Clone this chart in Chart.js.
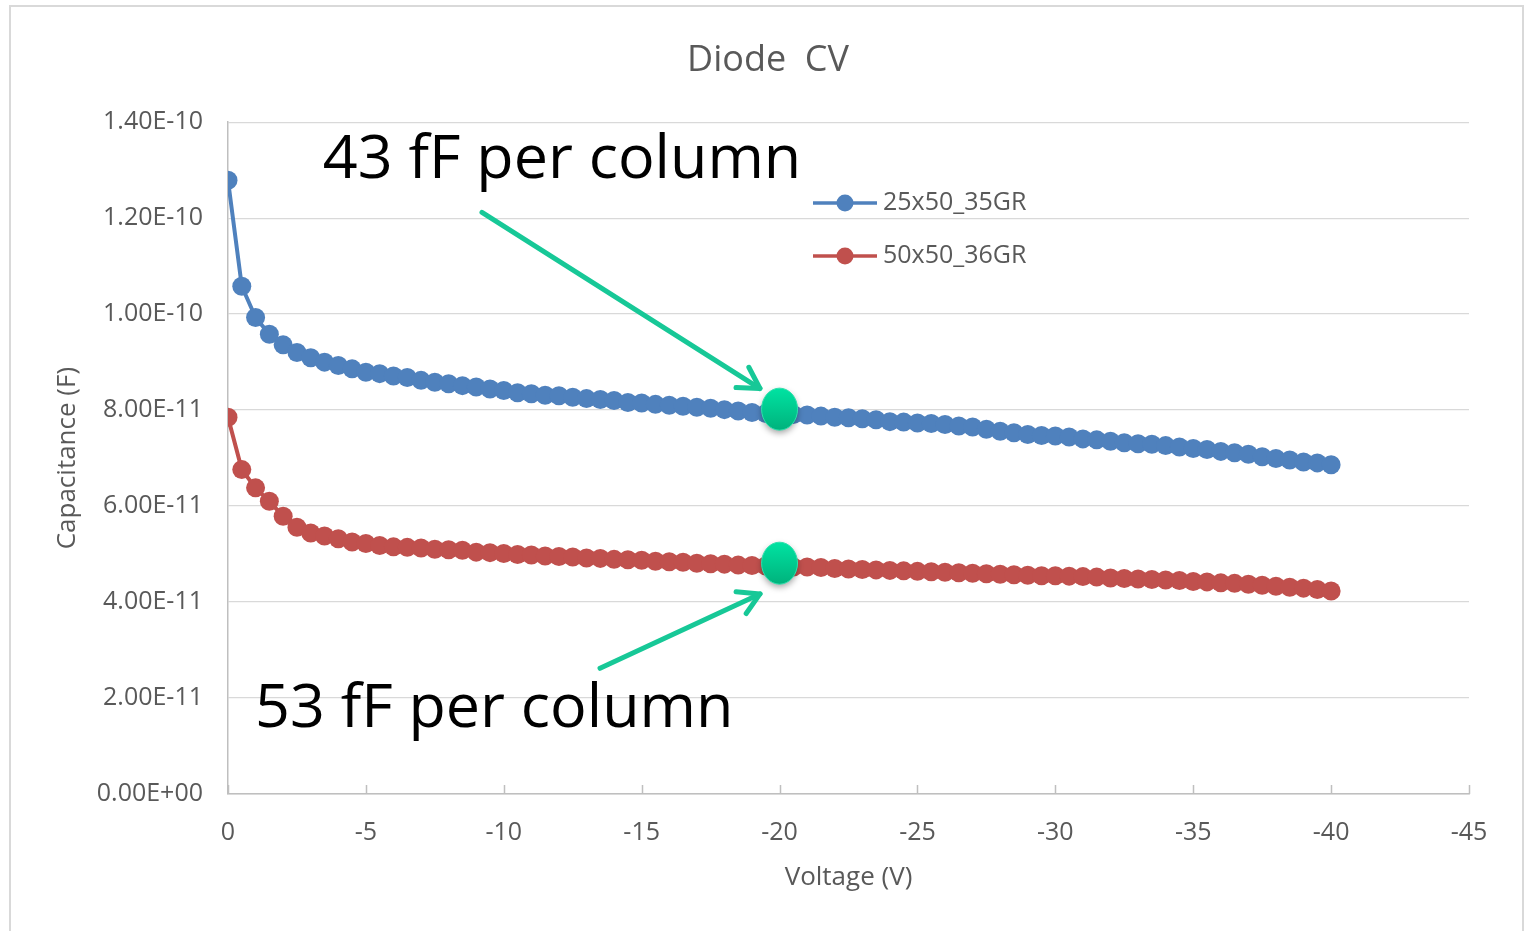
<!DOCTYPE html>
<html>
<head>
<meta charset="utf-8">
<title>Diode CV</title>
<script src="https://cdn.jsdelivr.net/npm/chart.js@4.4.1/dist/chart.umd.min.js"></script>
<style>
  html, body { margin: 0; padding: 0; background: #fff; }
  #cv { display: block; }
</style>
</head>
<body>
<canvas id="cv" width="1528" height="931"></canvas>
<script>
// bias sweep, volts
const VOLTAGE = [
  0, -0.5, -1, -1.5, -2, -2.5, -3, -3.5, -4, -4.5,
  -5, -5.5, -6, -6.5, -7, -7.5, -8, -8.5, -9, -9.5,
  -10, -10.5, -11, -11.5, -12, -12.5, -13, -13.5, -14, -14.5,
  -15, -15.5, -16, -16.5, -17, -17.5, -18, -18.5, -19, -19.5,
  -20, -20.5, -21, -21.5, -22, -22.5, -23, -23.5, -24, -24.5,
  -25, -25.5, -26, -26.5, -27, -27.5, -28, -28.5, -29, -29.5,
  -30, -30.5, -31, -31.5, -32, -32.5, -33, -33.5, -34, -34.5,
  -35, -35.5, -36, -36.5, -37, -37.5, -38, -38.5, -39, -39.5,
  -40
];

// capacitance in units of 1e-11 F
const CAP_25x50 = [
  12.79, 10.58, 9.93, 9.58, 9.36, 9.20, 9.09, 9.00, 8.93, 8.86,
  8.79, 8.76, 8.71, 8.68, 8.62, 8.58, 8.55, 8.51, 8.48, 8.44,
  8.41, 8.36, 8.34, 8.31, 8.30, 8.27, 8.24, 8.22, 8.20, 8.16,
  8.15, 8.12, 8.10, 8.08, 8.06, 8.04, 8.01, 7.98, 7.95, 7.93,
  7.92, 7.91, 7.90, 7.875, 7.85, 7.84, 7.82, 7.80, 7.76, 7.75,
  7.73, 7.72, 7.70, 7.67, 7.65, 7.60, 7.56, 7.53, 7.49, 7.47,
  7.46, 7.44, 7.40, 7.38, 7.35, 7.32, 7.30, 7.29, 7.26, 7.23,
  7.20, 7.18, 7.14, 7.11, 7.08, 7.03, 6.99, 6.96, 6.92, 6.90,
  6.86
];

const CAP_50x50 = [
  7.85, 6.76, 6.38, 6.10, 5.79, 5.56, 5.44, 5.375, 5.32, 5.25,
  5.22, 5.18, 5.15, 5.14, 5.125, 5.10, 5.09, 5.08, 5.04, 5.03,
  5.01, 4.99, 4.98, 4.96, 4.95, 4.94, 4.92, 4.91, 4.89, 4.88,
  4.87, 4.85, 4.84, 4.83, 4.81, 4.80, 4.79, 4.77, 4.76, 4.75,
  4.74, 4.73, 4.73, 4.72, 4.70, 4.69, 4.68, 4.67, 4.66, 4.65,
  4.64, 4.63, 4.62, 4.61, 4.60, 4.59, 4.58, 4.57, 4.56, 4.55,
  4.55, 4.54, 4.53, 4.52, 4.50, 4.49, 4.48, 4.47, 4.46, 4.45,
  4.43, 4.42, 4.40, 4.39, 4.37, 4.35, 4.33, 4.31, 4.29, 4.26,
  4.23
];

const SERIES_NAMES = ['25x50_35GR', '50x50_36GR'];
const SERIES_COLORS = ['#4f81bd', '#c0504d'];

const X_TICKS = [0, -5, -10, -15, -20, -25, -30, -35, -40, -45];
const Y_TICKS = [0, 2, 4, 6, 8, 10, 12, 14];

// callouts: highlighted operating point, arrow (tail -> tip) and caption, all in data units
const CALLOUTS = [
  { text: '43 fF per column', at: [-3.44, 12.83], tail: [-9.21, 12.12], tip: [-19.29, 8.45], dot: [-20, 8.02] },
  { text: '53 fF per column', at: [-0.98, 1.39], tail: [-13.49, 2.62], tip: [-19.29, 4.17], dot: [-20, 4.81] }
];

const UNIT = 1e-11;
const GREY_TEXT = '#595959';
const GRID = '#d9d9d9';
const AXIS = '#bfbfbf';

Chart.defaults.font.family = "'Open Sans', sans-serif";
Chart.defaults.color = GREY_TEXT;

function sciLabel(v) {
  const s = (v * UNIT).toExponential(2);
  const [mant, exp] = s.split('e');
  const sign = exp[0] === '-' ? '-' : '+';
  const digits = exp.replace(/[+-]/, '').padStart(2, '0');
  return mant + 'E' + sign + digits;
}

function toPoints(ys) {
  return VOLTAGE.map((v, i) => ({ x: v, y: ys[i] }));
}

// outer frame + short inward tick marks on the x axis
const framePlugin = {
  id: 'frame',
  beforeDraw(chart) {
    const ctx = chart.ctx;
    ctx.save();
    ctx.strokeStyle = GRID;
    ctx.lineWidth = 2;
    ctx.strokeRect(10, 6, 1513, 940);
    ctx.restore();
  },
  afterDraw(chart) {
    const { ctx, chartArea } = chart;
    const xs = chart.scales.x;
    ctx.save();
    ctx.strokeStyle = AXIS;
    ctx.lineWidth = 1.5;
    X_TICKS.forEach(t => {
      const px = Math.round(xs.getPixelForValue(t)) + 0.5;
      ctx.beginPath();
      ctx.moveTo(px, chartArea.bottom - 9);
      ctx.lineTo(px, chartArea.bottom);
      ctx.stroke();
    });
    ctx.restore();
  }
};

// legend sitting inside the plot area
const insideLegend = {
  id: 'insideLegend',
  afterDatasetsDraw(chart) {
    const ctx = chart.ctx;
    const rows = [203, 256];
    ctx.save();
    chart.data.datasets.slice(0, 2).forEach((ds, i) => {
      const y = rows[i];
      ctx.strokeStyle = ds.borderColor;
      ctx.lineWidth = 3.5;
      ctx.beginPath();
      ctx.moveTo(813, y);
      ctx.lineTo(877, y);
      ctx.stroke();
      ctx.fillStyle = ds.borderColor;
      ctx.beginPath();
      ctx.arc(845, y, 8.5, 0, Math.PI * 2);
      ctx.fill();
      ctx.fillStyle = GREY_TEXT;
      ctx.font = "25px 'Open Sans', sans-serif";
      ctx.textBaseline = 'middle';
      ctx.textAlign = 'left';
      ctx.fillText(ds.label, 883, y);
    });
    ctx.restore();
  }
};

// green markers, arrows and captions
const callouts = {
  id: 'callouts',
  afterDraw(chart) {
    const ctx = chart.ctx;
    const xs = chart.scales.x, ys = chart.scales.y;
    const px = p => [xs.getPixelForValue(p[0]), ys.getPixelForValue(p[1])];
    ctx.save();
    CALLOUTS.forEach(c => {
      // marker
      const [dx, dy] = px(c.dot);
      ctx.save();
      ctx.shadowColor = 'rgba(0,0,0,0.35)';
      ctx.shadowBlur = 6;
      ctx.shadowOffsetY = 3;
      const g = ctx.createLinearGradient(0, dy - 21, 0, dy + 21);
      g.addColorStop(0, '#00e3a2');
      g.addColorStop(1, '#00b27c');
      ctx.fillStyle = g;
      ctx.beginPath();
      ctx.ellipse(dx, dy, 18, 21, 0, 0, Math.PI * 2);
      ctx.fill();
      ctx.restore();
      ctx.strokeStyle = '#2fe0ad';
      ctx.lineWidth = 1;
      ctx.beginPath();
      ctx.ellipse(dx, dy, 18, 21, 0, 0, Math.PI * 2);
      ctx.stroke();

      // arrow
      const [tx, ty] = px(c.tail);
      const [hx, hy] = px(c.tip);
      const ang = Math.atan2(hy - ty, hx - tx);
      ctx.strokeStyle = '#17c897';
      ctx.lineWidth = 5;
      ctx.lineCap = 'round';
      ctx.lineJoin = 'round';
      ctx.beginPath();
      ctx.moveTo(tx, ty);
      ctx.lineTo(hx, hy);
      ctx.stroke();
      const arm = 24, spread = Math.PI / 6;
      ctx.beginPath();
      ctx.moveTo(hx - arm * Math.cos(ang - spread), hy - arm * Math.sin(ang - spread));
      ctx.lineTo(hx, hy);
      ctx.lineTo(hx - arm * Math.cos(ang + spread), hy - arm * Math.sin(ang + spread));
      ctx.stroke();

      // caption
      const [cx, cy] = px(c.at);
      ctx.fillStyle = '#000';
      ctx.font = "61px 'Open Sans', sans-serif";
      ctx.textAlign = 'left';
      ctx.textBaseline = 'alphabetic';
      ctx.fillText(c.text, cx, cy);
    });
    ctx.restore();
  }
};

new Chart(document.getElementById('cv'), {
  type: 'line',
  data: {
    datasets: [
      {
        label: SERIES_NAMES[0],
        data: toPoints(CAP_25x50),
        borderColor: SERIES_COLORS[0],
        backgroundColor: SERIES_COLORS[0],
        pointBackgroundColor: SERIES_COLORS[0]
      },
      {
        label: SERIES_NAMES[1],
        data: toPoints(CAP_50x50),
        borderColor: SERIES_COLORS[1],
        backgroundColor: SERIES_COLORS[1],
        pointBackgroundColor: SERIES_COLORS[1]
      }
    ]
  },
  options: {
    responsive: false,
    animation: false,
    devicePixelRatio: 1,
    layout: { padding: { left: 67, right: 59, top: 0, bottom: 0 } },
    elements: {
      line: { borderWidth: 4, tension: 0 },
      point: { radius: 9.5, borderWidth: 0, hoverRadius: 9.5 }
    },
    plugins: {
      legend: { display: false },
      tooltip: { enabled: false },
      title: {
        display: true,
        text: 'Diode  CV',
        color: GREY_TEXT,
        font: { size: 36, weight: 'normal' },
        padding: { top: 39, bottom: 40 }
      }
    },
    scales: {
      x: {
        type: 'linear',
        min: -45,
        max: 0,
        reverse: true,
        afterBuildTicks: s => { s.ticks = X_TICKS.map(v => ({ value: v })); },
        afterFit: s => { s.height = 931 - 794; },
        ticks: {
          font: { size: 25 },
          color: GREY_TEXT,
          padding: 24,
          maxRotation: 0,
          callback: v => (v === 0 ? '0' : String(v))
        },
        grid: { display: false, drawTicks: false },
        border: { display: true, color: AXIS, width: 1.5 },
        title: {
          display: true,
          text: 'Voltage (V)',
          color: GREY_TEXT,
          font: { size: 26 },
          padding: { top: 0, bottom: 38 }
        }
      },
      y: {
        min: 0,
        max: 14,
        afterBuildTicks: s => { s.ticks = Y_TICKS.map(v => ({ value: v })); },
        afterFit: s => { s.width = 228 - 67; },
        ticks: {
          font: { size: 25 },
          color: GREY_TEXT,
          padding: 25,
          callback: v => sciLabel(v)
        },
        grid: { color: GRID, lineWidth: 1.3, drawTicks: false },
        border: { display: true, color: AXIS, width: 1.5 },
        title: {
          display: true,
          text: 'Capacitance (F)',
          color: GREY_TEXT,
          font: { size: 26 },
          padding: { top: -14.6, bottom: 0 }
        }
      }
    }
  },
  plugins: [framePlugin, insideLegend, callouts]
});
</script>
</body>
</html>
